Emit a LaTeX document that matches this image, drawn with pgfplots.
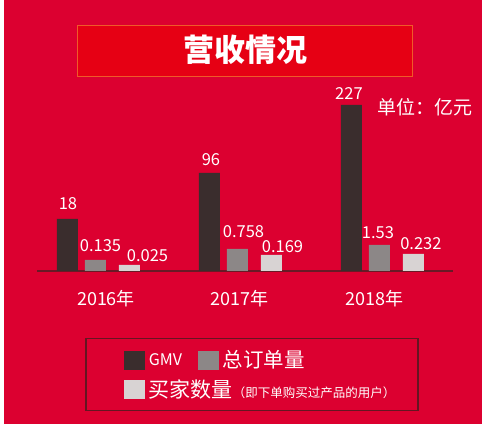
\documentclass[border=0pt]{standalone}
\usepackage{pgfplots}
\pgfplotsset{compat=1.18}
\usepackage{pgfplotstable}
\usepackage{fontspec}
\setmainfont{Noto Sans CJK SC}
\definecolor{bgred}{RGB}{220,0,48}
\definecolor{titlefill}{RGB}{230,0,20}
\definecolor{titleborder}{RGB}{240,90,40}
\definecolor{cgmv}{RGB}{58,45,45}
\definecolor{corder}{RGB}{140,135,135}
\definecolor{cbuyer}{RGB}{216,211,211}
\definecolor{basecol}{RGB}{105,25,38}
\definecolor{legcol}{RGB}{100,22,34}

% dx: horizontal offset of the value label from the group centre (pt)
% dy: height of the label centre above the bar top (pt)
\pgfplotstableread{
x h lab dx dy
0 52 18 -29.5 15.5
1 98 96 -28.5 13
2 166 227 -32.5 11
}\gmv
\pgfplotstableread{
x h lab dx dy
0 11 0.135 3 14
1 22 0.758 4 17
2 26 1.53 -3.5 12.5
}\orders
\pgfplotstableread{
x h lab dx dy
0 6 0.025 50 9
1 16 0.169 43 8.5
2 17 0.232 39.5 10.5
}\buyers

\begin{document}
\begin{tikzpicture}
\fill[white] (0,0) rectangle (482pt,433pt);
\fill[bgred] (4pt,9pt) rectangle (482pt,433pt);
\node[draw=titleborder, fill=titlefill, line width=0.8pt, minimum width=335pt, minimum height=51pt, inner sep=0pt] at (244.5pt,382.5pt) {};
\node[text=white, font=\bfseries\fontsize{31}{31}\selectfont, inner sep=0pt] at (245.5pt,383pt) {营收情况};
\node[text=white, font=\fontsize{19}{19}\selectfont, inner sep=0pt] at (425pt,326pt) {单位：亿元};
\begin{axis}[
  at={(37pt,162pt)}, anchor=south west,
  width=416pt, height=170pt, scale only axis,
  xmin=-0.426, xmax=2.504, ymin=0, ymax=170,
  clip=false,
  axis x line*=bottom, hide y axis,
  axis line style={draw=basecol, line width=1.5pt},
  xtick={0.06,1,1.954}, xticklabels={2016年,2017年,2018年},
  major tick length=0,
  xticklabel style={text=white, font=\fontsize{18}{18}\selectfont, anchor=center, yshift=-28pt, inner sep=0pt},
  legend columns=2,
  legend cell align=left,
  legend image code/.code={\draw[#1,draw=none] (0pt,-9.5pt) rectangle (21pt,9.5pt);},
  legend style={at={(0.1154,-0.394)}, anchor=north west, draw=legcol, line width=1.5pt, fill=none, text=white,
    inner xsep=38pt, inner ysep=10pt,
    /tikz/every even column/.append style={column sep=14pt},
    /tikz/every odd column/.append style={column sep=2pt},
    row sep=6pt},
]
\addplot[ybar, bar width=21pt, bar shift=-30pt, fill=cgmv, draw=none,
  nodes near coords, point meta=explicit symbolic,
  visualization depends on={\thisrow{dx} \as \mydx},
  visualization depends on={\thisrow{dy} \as \mydy},
  nodes near coords style={anchor=center, xshift=\mydx pt, yshift=\mydy pt, text=white, font=\fontsize{16.5}{16.5}\selectfont, inner sep=0pt}]
  table[x=x, y=h, meta=lab]{\gmv};
\addlegendentry{\fontsize{16}{16}\selectfont GMV}
\addplot[ybar, bar width=21pt, bar shift=-2pt, fill=corder, draw=none,
  nodes near coords, point meta=explicit symbolic,
  visualization depends on={\thisrow{dx} \as \mydx},
  visualization depends on={\thisrow{dy} \as \mydy},
  nodes near coords style={anchor=center, xshift=\mydx pt, yshift=\mydy pt, text=white, font=\fontsize{16.5}{16.5}\selectfont, inner sep=0pt}]
  table[x=x, y=h, meta=lab]{\orders};
\addlegendentry{\hbox to 155pt{\fontsize{20.5}{20.5}\selectfont 总订单量\hfil}}
\addplot[ybar, bar width=21pt, bar shift=32pt, fill=cbuyer, draw=none,
  nodes near coords, point meta=explicit symbolic,
  visualization depends on={\thisrow{dx} \as \mydx},
  visualization depends on={\thisrow{dy} \as \mydy},
  nodes near coords style={anchor=center, xshift=\mydx pt, yshift=\mydy pt, text=white, font=\fontsize{16.5}{16.5}\selectfont, inner sep=0pt}]
  table[x=x, y=h, meta=lab]{\buyers};
\addlegendentry{\makebox[0pt][l]{\fontsize{21}{21}\selectfont 买家数量\fontsize{12.5}{12.5}\selectfont （即下单购买过产品的用户）}}
\end{axis}
\pgfresetboundingbox
\useasboundingbox (0,0) rectangle (482pt,433pt);
\end{tikzpicture}
\end{document}
